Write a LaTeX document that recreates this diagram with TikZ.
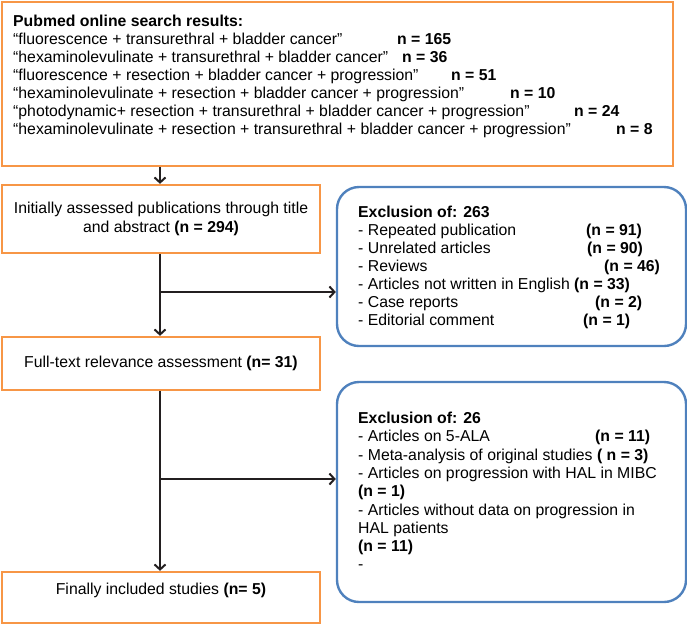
\documentclass[tikz,border=0pt]{standalone}
\usepackage{fontspec}
\setmainfont{Liberation Sans}
\usetikzlibrary{arrows.meta,positioning,calc}
\definecolor{boxorange}{HTML}{F79646}
\definecolor{boxblue}{HTML}{4F81BD}
\definecolor{flowline}{HTML}{231F20}

\begin{document}
\begin{tikzpicture}[x=1pt,y=-1pt,font=\fontsize{15.8}{18.2}\selectfont]
    \tikzstyle{stage}=[draw=boxorange,line width=2.4pt,rectangle,inner sep=0pt,align=center]
    \tikzstyle{excl}=[draw=boxblue,line width=2.4pt,rectangle,rounded corners=22pt,inner sep=0pt]
    \tikzstyle{txt}=[anchor=base west,inner sep=0pt]
    \tikzstyle{flow}=[draw=flowline,line width=2pt,-{Straight Barb[length=5pt,width=11pt]}]
    \useasboundingbox (0,0) rectangle (687,625);

    \node[stage,minimum width=671pt,minimum height=164pt] at (337.5,84) (search) {};
    \node[txt] at (13,26.5) (head) {\textbf{Pubmed online search results:}};
    \foreach \q [count=\i] in {{“fluorescence + transurethral + bladder cancer”},
        {“hexaminolevulinate + transurethral + bladder cancer”},
        {“fluorescence + resection + bladder cancer + progression”},
        {“hexaminolevulinate + resection + bladder cancer + progression”},
        {“photodynamic+ resection + transurethral + bladder cancer + progression”},
        {“hexaminolevulinate + resection + transurethral + bladder cancer + progression”}} {
      \node[txt] at (13,{26.5+18*\i}) (q\i) {\q};
    }
    \foreach \x/\n [count=\i] in {397/165,402/36,451/51,510/10,574/24,616/8} {
      \node[txt] at (\x,{26.5+18*\i}) (n\i) {\textbf{n = \n}};
    }

    \node[stage,minimum width=318pt,minimum height=68pt] at (161,219) (screen) {Initially assessed publications through title\\and abstract \textbf{(n = 294)}};
    \node[stage,minimum width=318pt,minimum height=53pt] at (161,363.5) (fulltext) {Full-text relevance assessment \textbf{(n= 31)}};
    \node[stage,minimum width=318pt,minimum height=51pt] at (161,597.5) (final) {Finally included studies \textbf{(n= 5)}\\\mbox{}};

    \node[excl,minimum width=349pt,minimum height=159pt] at (511.5,266.5) (excla) {};
    \node[txt] at (358,217.5) (heada) {\textbf{Exclusion of: 263}};
    \foreach \t/\x/\n [count=\i] in {Repeated publication/586/91,Unrelated articles/587/90,Reviews/604/46,
        Articles not written in English/574/33,Case reports/595/2,Editorial comment/583/1} {
      \node[txt] at (358,{217.5+18*\i}) (ra\i) {- \t};
      \node[txt] at (\x,{217.5+18*\i}) (na\i) {\textbf{(n = \n)}};
    }

    \node[excl,minimum width=349pt,minimum height=220pt] at (511.5,492) (exclb) {};
    \node[txt] at (358,423.5) (headb) {\textbf{Exclusion of: 26}};
    \foreach \t [count=\i] in {{- Articles on 5-ALA},
        {- Meta-analysis of original studies \textbf{( n = 3)}},
        {- Articles on progression with HAL in MIBC},
        {\textbf{(n = 1)}},
        {- Articles without data on progression in},
        {HAL patients},
        {\textbf{(n = 11)}},
        {-}} {
      \node[txt] at (358,{423.5+18.3*\i}) (rb\i) {\t};
    }
    \node[txt] at (595,441.8) (nb1) {\textbf{(n = 11)}};

    \coordinate (ja) at (160,292);
    \coordinate (jb) at (160,479);
    \draw[flow] (search.south -| ja) -- (screen.north -| ja);
    \draw[flow] (screen.south -| ja) -- (fulltext.north -| ja);
    \draw[flow] (fulltext.south -| jb) -- (final.north -| jb);
    \draw[flow] (ja) -- (ja -| excla.west);
    \draw[flow] (jb) -- (jb -| exclb.west);
\end{tikzpicture}
\end{document}
